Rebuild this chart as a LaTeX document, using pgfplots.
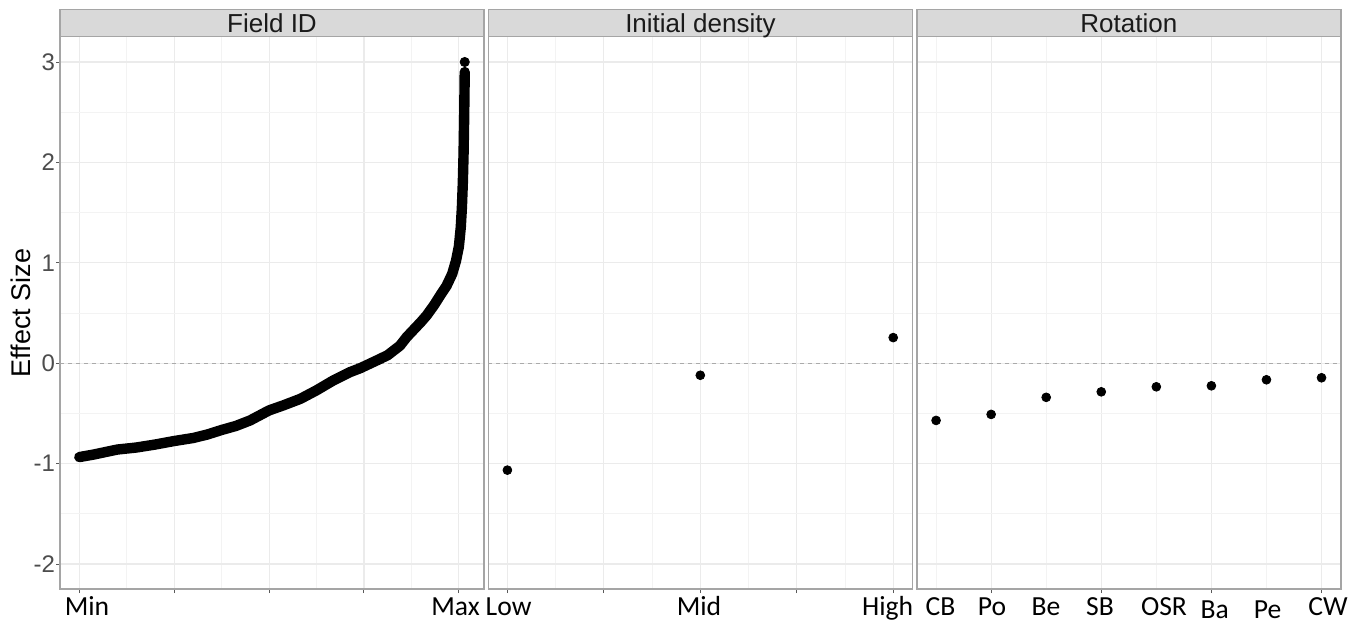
\documentclass[border=0pt]{standalone}
\usepackage{pgfplots}
\pgfplotsset{compat=1.18}
\usepackage{fontspec}
\setmainfont{Liberation Sans}
\newfontfamily\calib{Carlito}
\definecolor{gridc}{RGB}{235,235,235}
\definecolor{gridm}{RGB}{243,243,243}
\definecolor{borderc}{RGB}{165,165,165}
\definecolor{stripc}{RGB}{217,217,217}
\definecolor{tickc}{RGB}{77,77,77}
\definecolor{tickm}{RGB}{90,90,90}
\definecolor{zeroc}{RGB}{170,170,170}
\definecolor{stript}{RGB}{26,26,26}

\pgfplotstableread{
x y
0.00 -0.935
0.15 -0.91
0.30 -0.88
0.40 -0.86
0.60 -0.84
0.80 -0.81
1.00 -0.775
1.20 -0.745
1.35 -0.71
1.50 -0.665
1.65 -0.625
1.80 -0.57
1.90 -0.52
2.00 -0.47
2.15 -0.42
2.33 -0.355
2.50 -0.27
2.68 -0.17
2.85 -0.09
2.96 -0.05
3.05 -0.01
3.14 0.03
3.25 0.08
3.38 0.175
3.45 0.26
3.50 0.31
3.60 0.41
3.66 0.475
3.74 0.58
3.80 0.67
3.87 0.77
3.93 0.89
3.97 1.02
4.00 1.16
4.02 1.35
4.032 1.55
4.042 1.80
4.050 2.10
4.056 2.45
4.060 2.75
4.062 2.90
}\fieldtab

\pgfplotstableread{
x y
1 -1.065
2 -0.12
3 0.255
}\denstab

\pgfplotstableread{
x y
1 -0.57
2 -0.51
3 -0.34
4 -0.285
5 -0.235
6 -0.225
7 -0.165
8 -0.145
}\rottab

\pgfplotsset{panel/.style={
  anchor=south west, scale only axis, width=212pt, height=276.15pt,
  ymin=-2.249, ymax=3.252,
  ytick={-2,-1,0,1,2,3}, minor ytick={-1.5,-0.5,0.5,1.5,2.5},
  yticklabels={-2,-1,0,1,2,3},
  grid=both,
  major grid style={color=gridc, line width=0.55pt},
  minor grid style={color=gridm, line width=0.35pt},
  axis line style={draw=borderc, line width=0.75pt},
  tick style={color=tickm, line width=0.5pt},
  major tick length=2pt, minor tick length=0pt,
  tick align=outside, xtick pos=bottom, ytick pos=left,
  xticklabels={},
  tick label style={font=\fontsize{12}{14}\selectfont, text=tickc},
  yticklabel style={xshift=3pt},
  clip=false,
}}

\newcommand{\strip}[1]{%
  \draw[fill=stripc, draw=borderc, line width=0.75pt] (rel axis cs:0,1) rectangle ([yshift=13.7pt]rel axis cs:1,1);
  \node[text=stript, font=\fontsize{13}{14}\selectfont, anchor=base, inner sep=0pt] at ([yshift=2.3pt]rel axis cs:0.5,1) {#1};
}

\begin{document}
\begin{tikzpicture}
\useasboundingbox (0,0) rectangle (679.5pt,311.5pt);

% Panel 1: Field ID
\begin{axis}[panel, at={(30pt,17pt)},
  xmin=-0.2035, xmax=4.265,
  xtick={0,1,2,3,4}, minor xtick={0.5,1.5,2.5,3.5},
]
\draw[zeroc, line width=0.5pt, dash pattern=on 2pt off 2pt] (axis cs:-0.2035,0) -- (axis cs:4.265,0);
\addplot[black, line width=5.2pt, line cap=round, line join=round] table[x=x,y=y] {\fieldtab};
\addplot[black, only marks, mark=*, mark size=2.3pt] coordinates {(4.062,3.0)};
\strip{Field ID}
\end{axis}

% Panel 2: Initial density
\begin{axis}[panel, at={(244.2pt,17pt)},
  xmin=0.9016, xmax=3.0995,
  xtick={1,1.5,2,2.5,3}, minor xtick={1.25,1.75,2.25,2.75},
  yticklabels={}, ytick style={draw=none},
]
\draw[zeroc, line width=0.5pt, dash pattern=on 2pt off 2pt] (axis cs:0.9016,0) -- (axis cs:3.0995,0);
\addplot[black, only marks, mark=*, mark size=2.2pt] table[x=x,y=y] {\denstab};
\strip{Initial density}
\end{axis}

% Panel 3: Rotation
\begin{axis}[panel, at={(458.4pt,17pt)},
  xmin=0.65, xmax=8.35,
  xtick={2,4,6,8}, minor xtick={1,3,5,7},
  yticklabels={}, ytick style={draw=none},
]
\draw[zeroc, line width=0.5pt, dash pattern=on 2pt off 2pt] (axis cs:0.65,0) -- (axis cs:8.35,0);
\addplot[black, only marks, mark=*, mark size=2.2pt] table[x=x,y=y] {\rottab};
\strip{Rotation}
\end{axis}

% y axis title
\node[rotate=90, font=\fontsize{13.5}{15}\selectfont, text=black, anchor=center] at (10.5pt,155pt) {Effect Size};

% category labels (overlaid text)
\begin{scope}[every node/.style={anchor=base, font=\calib\fontsize{13.8}{15}\selectfont, text=black, inner sep=0pt}]
\node at (43.5pt,4pt) {Min};
\node at (227.8pt,4pt) {Max};
\node at (254.3pt,4pt) {Low};
\node at (349.5pt,4pt) {Mid};
\node at (443.8pt,4pt) {High};
\node at (470.3pt,4pt) {CB};
\node at (496pt,4pt) {Po};
\node at (523pt,4pt) {Be};
\node at (550pt,4pt) {SB};
\node at (582pt,4pt) {OSR};
\node at (607.3pt,2.5pt) {Ba};
\node at (633.8pt,2.5pt) {Pe};
\node at (664pt,4pt) {CW};
\end{scope}
\end{tikzpicture}
\end{document}
